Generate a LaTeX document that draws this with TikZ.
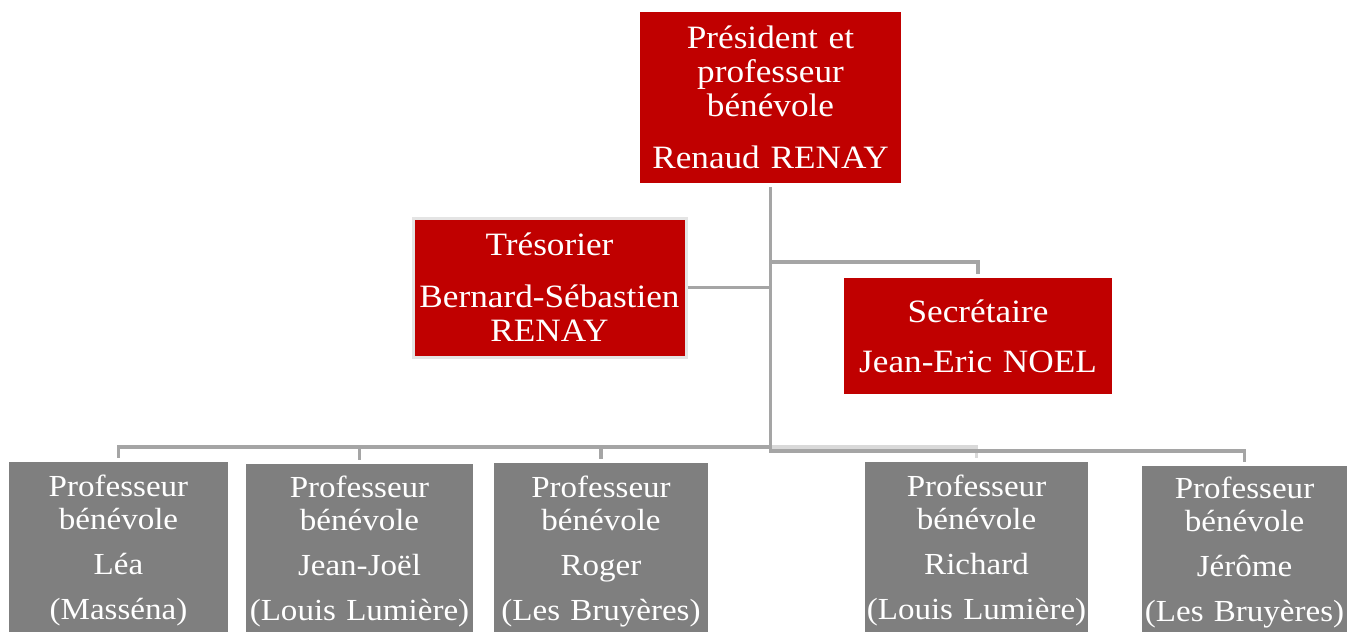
\documentclass[tikz,border=0pt]{standalone}
\usepackage{fontspec}
\setmainfont[FakeStretch=1.08]{Liberation Serif}
\usepackage{tikz}
\usetikzlibrary{positioning}
\definecolor{chartred}{HTML}{C00000}
\definecolor{chartgrey}{HTML}{7F7F7F}
\definecolor{linkgrey}{HTML}{A5A5A5}
\definecolor{faintgrey}{HTML}{D9D9D9}
\definecolor{rimgrey}{HTML}{E4E4E4}
\newcommand{\lift}{\rule{0pt}{14.5pt}}

\begin{document}
\begin{tikzpicture}[x=0.5pt, y=-0.5pt, box/.style={inner xsep=0pt, inner ysep=0pt, align=center, text=white}, redbox/.style={box, fill=chartred, font=\fontsize{16.3}{17}\selectfont}, greybox/.style={box, fill=chartgrey, font=\fontsize{15.3}{16.5}\selectfont}, link/.style={draw=linkgrey, line width=1.8pt, shorten >=2pt}]
		\useasboundingbox (0,0) rectangle (1347,632);
		\node[redbox, text width=130.5pt, minimum height=85.5pt]	(pres)	at (770.5,97.5)	{Président et\\professeur\\bénévole\\[9pt]Renaud RENAY};
		\node[redbox, text width=136.5pt, minimum height=69.5pt, draw=rimgrey, line width=1.5pt]	(treso)	at (549.5,287.5)	{Trésorier\\[9pt]Bernard-Sébastien\\RENAY};
		\node[redbox, text width=134pt, minimum height=58pt]	(secr)	at (978,336)	{Secrétaire\\[8pt]Jean-Eric NOEL};
		\node[greybox, text width=109.5pt, minimum height=85pt]	(lea)	at (118.5,547)	{\lift Professeur\\bénévole\\[6pt]Léa\\[6pt](Masséna)};
		\node[greybox, text width=113.5pt, minimum height=84pt]	(jeanjoel)	at (359.5,548)	{\lift Professeur\\bénévole\\[6pt]Jean-Joël\\[6pt](Louis Lumière)};
		\node[greybox, text width=107pt, minimum height=84.5pt]	(roger)	at (601,547.5)	{\lift Professeur\\bénévole\\[6pt]Roger\\[6pt](Les Bruyères)};
		\node[greybox, text width=111.5pt, minimum height=85pt]	(richard)	at (976.5,547)	{\lift Professeur\\bénévole\\[6pt]Richard\\[6pt](Louis Lumière)};
		\node[greybox, text width=102.5pt, minimum height=83pt]	(jerome)	at (1244.5,549)	{\lift Professeur\\bénévole\\[6pt]Jérôme\\[6pt](Les Bruyères)};
		\coordinate	(jS)	at (770.5,262);
		\coordinate	(busL)	at (770.5,447);
		\coordinate	(busR)	at (770.5,451);
		\draw[link, draw=faintgrey]	(busL) -| (richard.north);
		\draw[link, shorten <=2pt]	(pres.south) -- (busR) -| (jerome.north);
		\draw[link, shorten >=0pt]	(treso.east) -- (treso.east -| pres.south);
		\draw[link]	(jS) -| (secr.north);
		\draw[link]	(busL) -| (lea.north);
		\draw[link]	(busL) -| (jeanjoel.north);
		\draw[link]	(busL) -| (roger.north);
\end{tikzpicture}
\end{document}
